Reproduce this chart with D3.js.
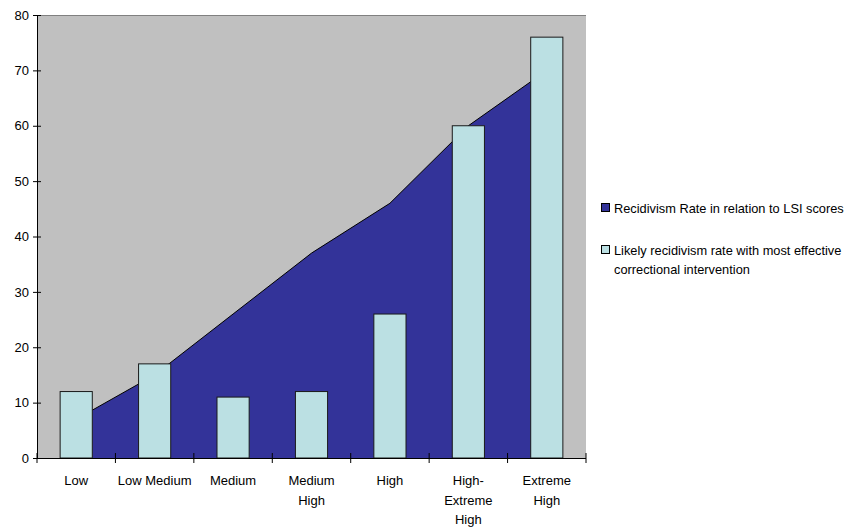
<!DOCTYPE html>
<html>
<head>
<meta charset="utf-8">
<script src="https://cdn.jsdelivr.net/npm/d3@7"></script>
<style>
  body { margin: 0; background: #fff; }
  svg { display: block; font-family: "Liberation Sans", Arial, sans-serif; }
</style>
</head>
<body>
<svg id="chart" width="849" height="529"></svg>
<script>
// Risk categories (multi-line labels split on "\n")
const categories = ["Low", "Low Medium", "Medium", "Medium\nHigh", "High", "High-\nExtreme\nHigh", "Extreme\nHigh"];
// Recidivism rate in relation to LSI scores (area series)
const recidivismRate = [7, 15, 26, 37, 46, 60, 70];
// Likely recidivism rate with most effective correctional intervention (bars)
const interventionRate = [12, 17, 11, 12, 26, 60, 76];
const yTicks = [0, 10, 20, 30, 40, 50, 60, 70, 80];
const seriesNames = ["Recidivism Rate in relation to LSI scores",
                     "Likely recidivism rate with most effective\ncorrectional intervention"];

const svg = d3.select("#chart");
const plot = { left: 37, right: 586, top: 15, bottom: 458 };

const x = d3.scaleBand().domain(categories).range([plot.left, plot.right]).paddingInner(0).paddingOuter(0);
const y = d3.scaleLinear().domain([0, 80]).range([plot.bottom, plot.top]);

// plot background
svg.append("rect")
  .attr("x", plot.left).attr("y", plot.top)
  .attr("width", plot.right - plot.left).attr("height", plot.bottom - plot.top)
  .attr("fill", "#c0c0c0");
svg.append("line")
  .attr("x1", plot.left).attr("x2", plot.right)
  .attr("y1", plot.top + 0.5).attr("y2", plot.top + 0.5)
  .attr("stroke", "#808080").attr("stroke-width", 1);

// area series from category centres
const cx = d => x(d) + x.bandwidth() / 2;
const area = d3.area()
  .x((d, i) => cx(categories[i]))
  .y0(y(0))
  .y1(d => y(d));
svg.append("path")
  .datum(recidivismRate)
  .attr("d", area)
  .attr("fill", "#333399");
const topLine = d3.line().x((d, i) => cx(categories[i])).y(d => y(d));
svg.append("path")
  .datum(recidivismRate)
  .attr("d", topLine)
  .attr("fill", "none")
  .attr("stroke", "#000")
  .attr("stroke-width", 1);

// bars
const barW = x.bandwidth() * 0.41;
svg.append("g").selectAll("rect")
  .data(interventionRate)
  .join("rect")
  .attr("x", (d, i) => cx(categories[i]) - barW / 2)
  .attr("y", d => y(d))
  .attr("width", barW)
  .attr("height", d => y(0) - y(d))
  .attr("fill", "#bbe0e3")
  .attr("stroke", "#1a1a1a")
  .attr("stroke-width", 1);

// y axis
const yAxis = svg.append("g")
  .attr("transform", `translate(${plot.left},0)`)
  .call(d3.axisLeft(y).tickValues(yTicks).tickSize(0).tickPadding(8));
yAxis.select(".domain").attr("stroke", "#000");
yAxis.selectAll(".tick line").remove();
yAxis.selectAll(".tick").append("line")
  .attr("x1", -4).attr("x2", 4).attr("stroke", "#000");
yAxis.selectAll(".tick text")
  .attr("font-size", 13).attr("fill", "#000")
  .attr("font-family", "Liberation Sans, Arial, sans-serif");

// x axis
const xAxis = svg.append("g")
  .attr("transform", `translate(0,${plot.bottom})`);
xAxis.append("line")
  .attr("x1", plot.left).attr("x2", plot.right)
  .attr("y1", 0.5).attr("y2", 0.5).attr("stroke", "#000");
const boundaries = categories.map(c => x(c)).concat([plot.right]);
xAxis.selectAll("line.tk")
  .data(boundaries)
  .join("line")
  .attr("class", "tk")
  .attr("x1", d => d).attr("x2", d => d)
  .attr("y1", -5).attr("y2", 5)
  .attr("stroke", "#000");
const labels = xAxis.selectAll("text")
  .data(categories)
  .join("text")
  .attr("text-anchor", "middle")
  .attr("font-size", 13)
  .attr("fill", "#000")
  .attr("transform", d => `translate(${cx(d)},27)`);
labels.each(function(d) {
  d.split("\n").forEach((ln, j) => {
    d3.select(this).append("tspan")
      .attr("x", 0).attr("y", j * 19.5)
      .text(ln);
  });
});

// legend
const legendColors = ["#333399", "#bbe0e3"];
const legendY = [208, 250];
const legend = svg.append("g");
seriesNames.forEach((name, i) => {
  legend.append("rect")
    .attr("x", 601.5).attr("y", legendY[i] - 4.5)
    .attr("width", 8).attr("height", 8)
    .attr("fill", legendColors[i])
    .attr("stroke", "#000").attr("stroke-width", 1);
  const t = legend.append("text")
    .attr("font-size", 12.8)
    .attr("fill", "#000");
  name.split("\n").forEach((ln, j) => {
    t.append("tspan")
      .attr("x", 614).attr("y", legendY[i] + 4.5 + j * 19)
      .text(ln);
  });
});
</script>
</body>
</html>
